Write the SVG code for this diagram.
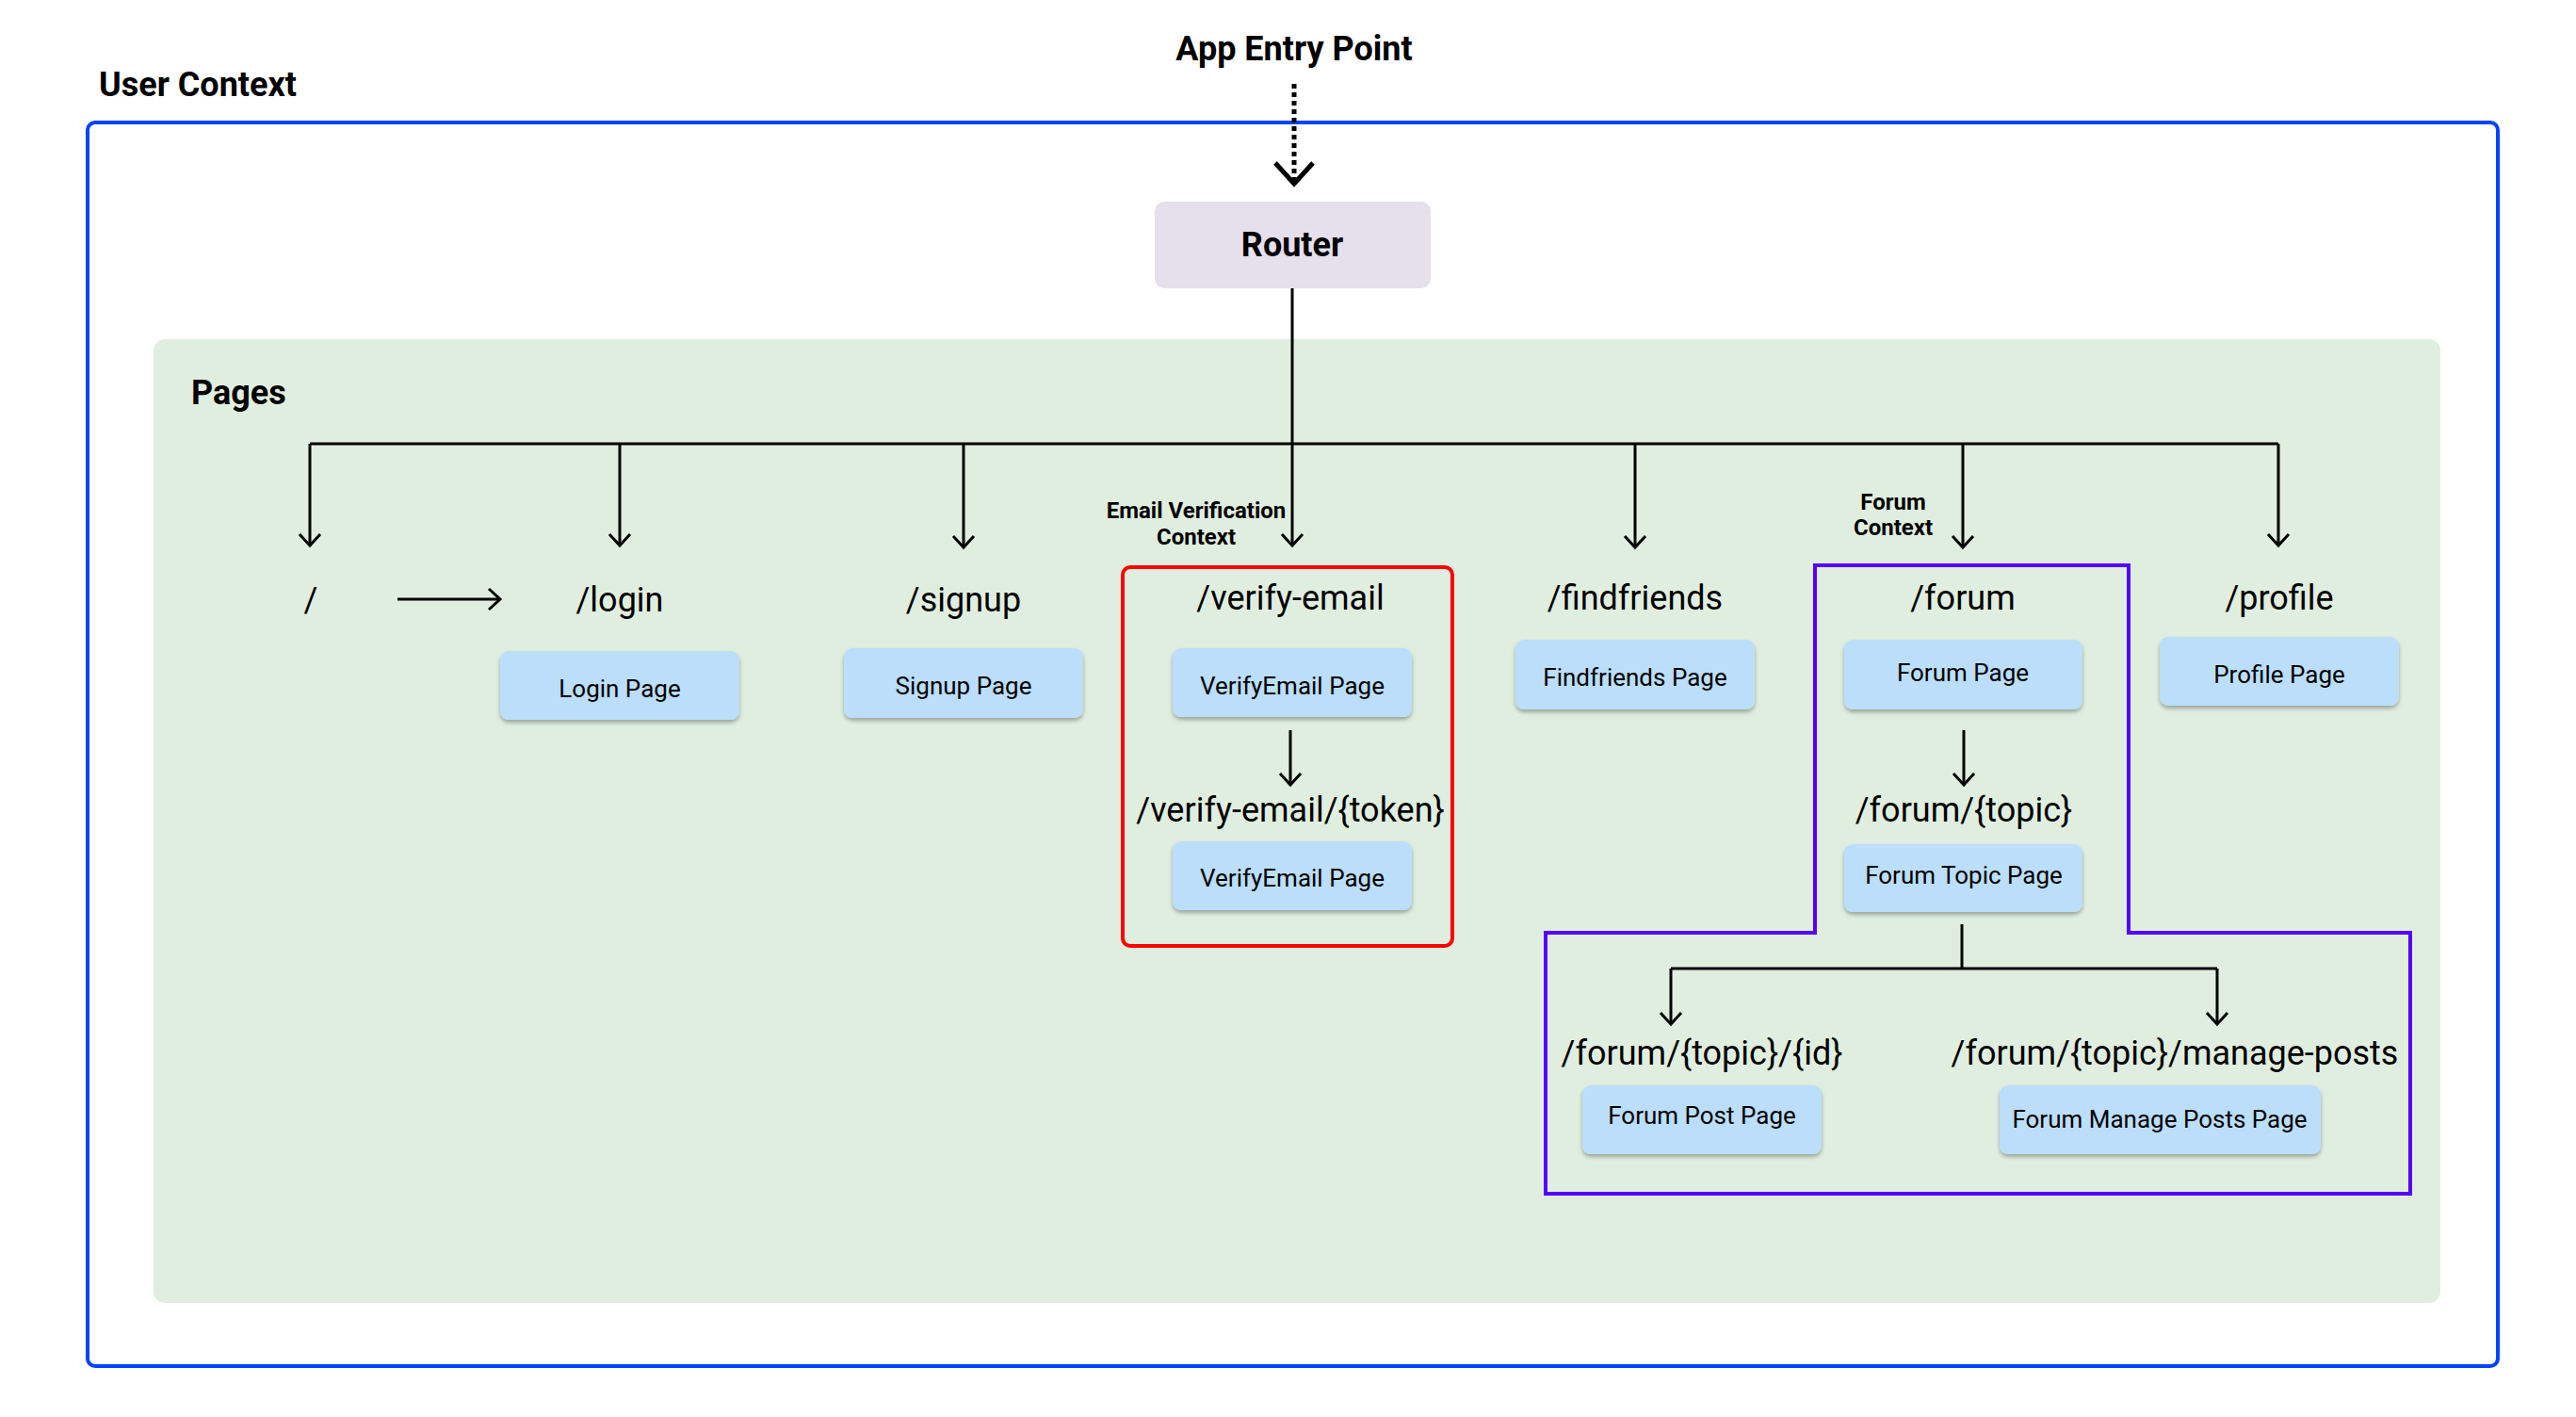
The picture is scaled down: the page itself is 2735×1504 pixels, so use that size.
<svg xmlns="http://www.w3.org/2000/svg" width="2735" height="1504" viewBox="0 0 2735 1504">
<style>
.hdr{font-family:Roboto,"Liberation Sans",sans-serif;font-weight:bold;font-size:36px;fill:#000}
.ctx{font-family:Roboto,"Liberation Sans",sans-serif;font-weight:bold;font-size:24px;fill:#000;text-anchor:middle}
.route{font-family:Roboto,"Liberation Sans",sans-serif;font-size:36px;fill:#000;text-anchor:middle}
.plabel{font-family:Roboto,"Liberation Sans",sans-serif;font-size:26px;fill:#000;text-anchor:middle}
.page{fill:#bbdefa;filter:url(#sh)}
.ln{stroke:#000;stroke-width:3;fill:none}
.arr{marker-end:url(#chev)}
</style>
<defs>
<filter id="sh" x="-10%" y="-10%" width="120%" height="140%">
<feDropShadow dx="0" dy="3" stdDeviation="2" flood-color="#000" flood-opacity="0.3"/>
</filter>
<marker id="chev" markerUnits="userSpaceOnUse" viewBox="-16 -14 20 28" markerWidth="20" markerHeight="28" refX="0" refY="0" orient="auto">
<path d="M-12,-11 L0,0 L-12,11" fill="none" stroke="#000" stroke-width="3"/>
</marker>
<marker id="chevBig" markerUnits="userSpaceOnUse" viewBox="-28 -26 34 52" markerWidth="34" markerHeight="52" refX="0" refY="0" orient="auto">
<path d="M-22,-20 L0,0 L-22,20" fill="none" stroke="#000" stroke-width="5"/>
</marker>
</defs>
<rect width="2735" height="1504" fill="#fff"/>

<g id="user-context">
<rect x="93" y="130" width="2559" height="1320" rx="8" fill="none" stroke="#0044ff" stroke-width="4"/>
<text class="hdr" x="105" y="102">User Context</text>
</g>

<g id="pages">
<rect x="163" y="360" width="2428" height="1023" rx="12" fill="#e0eedf"/>
<text class="hdr" x="203" y="429">Pages</text>
</g>

<g id="email-context">
<rect x="1192" y="602" width="350" height="402" rx="8" fill="none" stroke="#ff0000" stroke-width="4"/>
<text class="ctx" x="1270" y="550">Email Verification</text>
<text class="ctx" x="1270" y="578">Context</text>
</g>

<g id="forum-context">
<polygon points="1927,600 2260,600 2260,990 2559,990 2559,1267 1641,1267 1641,990 1927,990" fill="none" stroke="#5500ff" stroke-width="4"/>
<text class="ctx" x="2010" y="541">Forum</text>
<text class="ctx" x="2010" y="568">Context</text>
</g>

<g id="entry">
<text class="hdr" x="1374" y="64" text-anchor="middle">App Entry Point</text>
</g>

<g id="router">
<rect x="1226" y="214" width="293" height="92" rx="10" fill="#e6dfec"/>
<text class="hdr" x="1372" y="272" text-anchor="middle">Router</text>
</g>

<g id="connectors">
<line x1="1374" y1="89" x2="1374" y2="195" stroke="#000" stroke-width="5" stroke-dasharray="5 4" marker-end="url(#chevBig)"/>
<line class="ln" x1="1372" y1="306" x2="1372" y2="471"/>
<line class="ln" x1="329" y1="471" x2="2419" y2="471"/>
<line class="ln arr" x1="329" y1="471" x2="329" y2="579"/>
<line class="ln arr" x1="658" y1="471" x2="658" y2="579"/>
<line class="ln arr" x1="1023" y1="471" x2="1023" y2="581"/>
<line class="ln arr" x1="1372" y1="471" x2="1372" y2="579"/>
<line class="ln arr" x1="1736" y1="471" x2="1736" y2="581"/>
<line class="ln arr" x1="2084" y1="471" x2="2084" y2="581"/>
<line class="ln arr" x1="2419" y1="471" x2="2419" y2="579"/>
<line class="ln arr" x1="422" y1="636" x2="531" y2="636"/>
<line class="ln arr" x1="1370" y1="775" x2="1370" y2="833"/>
<line class="ln arr" x1="2085" y1="775" x2="2085" y2="833"/>
<line class="ln" x1="2083" y1="981" x2="2083" y2="1028"/>
<line class="ln" x1="1774" y1="1028" x2="2354" y2="1028"/>
<line class="ln arr" x1="1774" y1="1028" x2="1774" y2="1087"/>
<line class="ln arr" x1="2354" y1="1028" x2="2354" y2="1087"/>
</g>

<g id="root">
<text class="route" x="330" y="649">/</text>
</g>

<g id="login">
<text class="route" x="658" y="649">/login</text>
<rect class="page" x="531" y="691" width="254" height="73" rx="9"/>
<text class="plabel" x="658" y="740">Login Page</text>
</g>

<g id="signup">
<text class="route" x="1023" y="649">/signup</text>
<rect class="page" x="896" y="688" width="254" height="74" rx="9"/>
<text class="plabel" x="1023" y="737">Signup Page</text>
</g>

<g id="verify-email">
<text class="route" x="1370" y="647">/verify-email</text>
<rect class="page" x="1245" y="688" width="254" height="73" rx="9"/>
<text class="plabel" x="1372" y="737">VerifyEmail Page</text>
</g>

<g id="verify-email-token">
<text class="route" x="1370" y="872">/verify-email/{token}</text>
<rect class="page" x="1245" y="893" width="254" height="73" rx="9"/>
<text class="plabel" x="1372" y="941">VerifyEmail Page</text>
</g>

<g id="findfriends">
<text class="route" x="1736" y="647">/findfriends</text>
<rect class="page" x="1609" y="679" width="254" height="74" rx="9"/>
<text class="plabel" x="1736" y="728">Findfriends Page</text>
</g>

<g id="forum">
<text class="route" x="2084" y="647">/forum</text>
<rect class="page" x="1958" y="679" width="253" height="74" rx="9"/>
<text class="plabel" x="2084" y="723">Forum Page</text>
</g>

<g id="profile">
<text class="route" x="2420" y="647">/profile</text>
<rect class="page" x="2293" y="676" width="254" height="73" rx="9"/>
<text class="plabel" x="2420" y="725">Profile Page</text>
</g>

<g id="forum-topic">
<text class="route" x="2085" y="872">/forum/{topic}</text>
<rect class="page" x="1958" y="896" width="253" height="72" rx="9"/>
<text class="plabel" x="2085" y="938">Forum Topic Page</text>
</g>

<g id="forum-post">
<text class="route" x="1807" y="1130">/forum/{topic}/{id}</text>
<rect class="page" x="1680" y="1152" width="254" height="73" rx="9"/>
<text class="plabel" x="1807" y="1193">Forum Post Page</text>
</g>

<g id="forum-manage">
<text class="route" x="2309" y="1130">/forum/{topic}/manage-posts</text>
<rect class="page" x="2123" y="1152" width="341" height="73" rx="9"/>
<text class="plabel" x="2293" y="1197">Forum Manage Posts Page</text>
</g>
</svg>
